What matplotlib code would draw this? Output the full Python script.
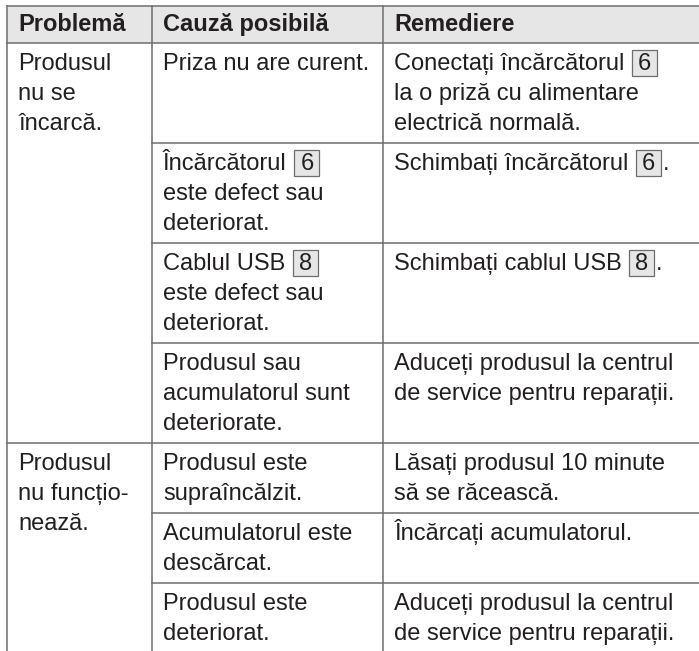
import matplotlib
matplotlib.use("Agg")
import matplotlib.pyplot as plt
from matplotlib.patches import Rectangle
import re

# ---------------- data ----------------
headers = ["Problemă", "Cauză posibilă", "Remediere"]
problems = ["Produsul\nnu se\nîncarcă.", "Produsul\nnu funcțio-\nnează."]
problem_groups = [4, 3]  # number of cause rows per problem
causes = [
    "Priza nu are curent.",
    "Încărcătorul [6]\neste defect sau\ndeteriorat.",
    "Cablul USB [8]\neste defect sau\ndeteriorat.",
    "Produsul sau\nacumulatorul sunt\ndeteriorate.",
    "Produsul este\nsupraîncălzit.",
    "Acumulatorul este\ndescărcat.",
    "Produsul este\ndeteriorat.",
]
remedies = [
    "Conectați încărcătorul [6]\nla o priză cu alimentare\nelectrică normală.",
    "Schimbați încărcătorul [6].",
    "Schimbați cablul USB [8].",
    "Aduceți produsul la centrul\nde service pentru reparații.",
    "Lăsați produsul 10 minute\nsă se răcească.",
    "Încărcați acumulatorul.",
    "Aduceți produsul la centrul\nde service pentru reparații.",
]

# ---------------- style ----------------
W, H = 699, 651
TXT = "#231f20"
LINE = "#6d6e70"
HEAD_BG = "#e6e6e6"
FONT = "Liberation Sans"
FS = 17
LH = 30          # line height (px)
PAD = 10         # extra vertical padding per row (px)
TOP = 6
HEAD_H = 37
COLS = [7, 152, 383, W]
XPAD = 11
LW = 1.1

fig = plt.figure(figsize=(W / 100, H / 100), dpi=100)
ax = fig.add_axes([0, 0, 1, 1])
ax.set_xlim(0, W)
ax.set_ylim(H, 0)
ax.axis("off")
renderer = fig.canvas.get_renderer()


def text_width(s, bold=False):
    t = ax.text(0, 0, s, fontsize=FS, family=FONT,
                fontweight="bold" if bold else "normal")
    bb = t.get_window_extent(renderer=renderer)
    t.remove()
    return bb.width  # pixel == data unit here


def draw_line(x, base, s, bold=False):
    parts = re.split(r"(\[\d+\])", s)
    for p in parts:
        if not p:
            continue
        m = re.fullmatch(r"\[(\d+)\]", p)
        if m:
            x += 1
            bw, bh = 25, 26
            ax.add_patch(Rectangle((x, base - 20), bw, bh, fc=HEAD_BG,
                                   ec=LINE, lw=0.9, zorder=2))
            ax.text(x + bw / 2, base, m.group(1), fontsize=FS, family=FONT,
                    color=TXT, ha="center", va="baseline", zorder=3)
            x += bw + 2
        else:
            ax.text(x, base, p, fontsize=FS, family=FONT, color=TXT,
                    fontweight="bold" if bold else "normal",
                    ha="left", va="baseline", zorder=3)
            x += text_width(p, bold)


def draw_cell(x, top, s, bold=False, first_off=27):
    for i, ln in enumerate(s.split("\n")):
        draw_line(x, top + first_off + i * LH, ln, bold)


# header
ax.add_patch(Rectangle((COLS[0], TOP), W - COLS[0], HEAD_H, fc=HEAD_BG,
                       ec="none", zorder=0))
for c, h in enumerate(headers):
    draw_cell(COLS[c] + XPAD, TOP, h, bold=True, first_off=25)

# rows
row_heights = [max(len(causes[i].split("\n")), len(remedies[i].split("\n"))) * LH + PAD
               for i in range(len(causes))]
y = TOP + HEAD_H
row_tops = []
for h in row_heights:
    row_tops.append(y)
    y += h

# lines
ax.plot([COLS[0], W], [TOP, TOP], color=LINE, lw=LW)
ax.plot([COLS[0], W], [TOP + HEAD_H, TOP + HEAD_H], color=LINE, lw=LW)
for c in COLS[:3]:
    ax.plot([c, c], [TOP, H + 5], color=LINE, lw=LW)

idx = 0
for g, n in enumerate(problem_groups):
    gtop = row_tops[idx]
    draw_cell(COLS[0] + XPAD, gtop, problems[g])
    if g > 0:
        ax.plot([COLS[0], W], [gtop, gtop], color=LINE, lw=LW)
    for k in range(n):
        r = idx + k
        if k > 0:
            ax.plot([COLS[1], W], [row_tops[r], row_tops[r]], color=LINE, lw=LW)
        draw_cell(COLS[1] + XPAD, row_tops[r], causes[r])
        draw_cell(COLS[2] + XPAD, row_tops[r], remedies[r])
    idx += n

fig.savefig("out.png", dpi=100, facecolor="white")
